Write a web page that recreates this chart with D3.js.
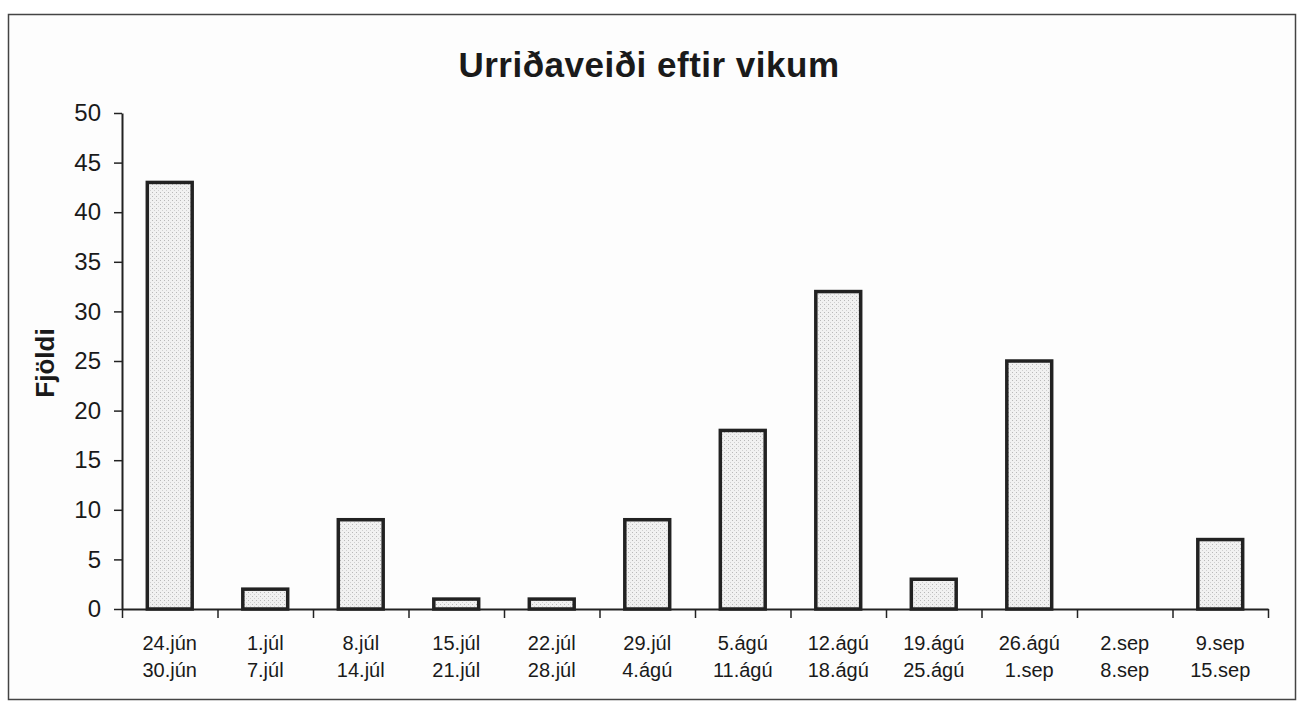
<!DOCTYPE html>
<html>
<head>
<meta charset="utf-8">
<script src="https://cdn.jsdelivr.net/npm/d3@7"></script>
<style>
  html, body { margin: 0; padding: 0; background: #ffffff; }
  svg { display: block; }
  text { font-family: "Liberation Sans", Arial, Helvetica, sans-serif; fill: #1a1a1a; }
</style>
</head>
<body>
<svg id="chart" width="1305" height="709"></svg>
<script>
// ---- data ----
const weekStart = ["24.jún","1.júl","8.júl","15.júl","22.júl","29.júl","5.ágú","12.ágú","19.ágú","26.ágú","2.sep","9.sep"];
const weekEnd   = ["30.jún","7.júl","14.júl","21.júl","28.júl","4.ágú","11.ágú","18.ágú","25.ágú","1.sep","8.sep","15.sep"];
const counts    = [43, 2, 9, 1, 1, 9, 18, 32, 3, 25, 0, 7];
const yTicks    = [0, 5, 10, 15, 20, 25, 30, 35, 40, 45, 50];
const chartTitle = "Urriðaveiði eftir vikum";
const yTitle    = "Fjöldi";

// ---- layout ----
const plotL = 122, plotR = 1268, plotT = 113, plotB = 609;

const svg = d3.select("#chart");

// stipple pattern for bars
const defs = svg.append("defs");
const pat = defs.append("pattern").attr("id", "stipple")
  .attr("width", 4).attr("height", 4).attr("patternUnits", "userSpaceOnUse");
pat.append("rect").attr("width", 4).attr("height", 4).attr("fill", "#f1f1f1");
pat.append("rect").attr("x", 0).attr("y", 0).attr("width", 1).attr("height", 1).attr("fill", "#b8b8b8");
pat.append("rect").attr("x", 2).attr("y", 2).attr("width", 1).attr("height", 1).attr("fill", "#cfcfcf");

// outer frame
svg.append("rect").attr("x", 8.5).attr("y", 14.5).attr("width", 1287).attr("height", 685)
  .attr("fill", "#fdfdfd").attr("stroke", "#444").attr("stroke-width", 1.5);

// title
svg.append("text").attr("x", 649).attr("y", 77).attr("text-anchor", "middle")
  .style("font-size", "35px").style("font-weight", "bold").style("letter-spacing", "0.5px")
  .text(chartTitle);

// scales
const x = d3.scaleBand().domain(d3.range(counts.length)).range([plotL, plotR])
  .paddingInner(0.53).paddingOuter(0.265);
const xEdge = d3.scaleLinear().domain([0, counts.length]).range([plotL, plotR]);
const y = d3.scaleLinear().domain([0, 50]).range([plotB, plotT]);

// bars
svg.append("g").selectAll("rect").data(counts).join("rect")
  .attr("x", (d, i) => x(i))
  .attr("y", d => y(d))
  .attr("width", x.bandwidth())
  .attr("height", d => plotB - y(d))
  .attr("fill", "url(#stipple)")
  .attr("stroke", "#222")
  .attr("stroke-width", d => d > 0 ? 3.5 : 0);

// y axis
const yAxis = svg.append("g").attr("transform", `translate(${plotL},0)`)
  .call(d3.axisLeft(y).tickValues(yTicks).tickSize(8).tickSizeOuter(0).tickPadding(13));
yAxis.select(".domain").attr("stroke", "#222").attr("stroke-width", 2);
yAxis.selectAll(".tick line").attr("stroke", "#222").attr("stroke-width", 1.5);
yAxis.selectAll(".tick text").style("font-size", "24px").style("font-family", "'Liberation Sans', Arial, sans-serif").attr("fill", "#1a1a1a");

// x axis (ticks at band boundaries)
const xAxis = svg.append("g").attr("transform", `translate(0,${plotB})`)
  .call(d3.axisBottom(xEdge).tickValues(d3.range(counts.length + 1)).tickFormat("").tickSize(9).tickSizeOuter(0));
xAxis.select(".domain").attr("stroke", "#222").attr("stroke-width", 2);
xAxis.selectAll(".tick line").attr("stroke", "#222").attr("stroke-width", 1.5);

// x labels (two lines)
const lab = svg.append("g").selectAll("text").data(counts).join("text")
  .attr("text-anchor", "middle")
  .style("font-size", "20px");
lab.append("tspan").attr("x", (d, i) => x(i) + x.bandwidth() / 2).attr("y", 650).text((d, i) => weekStart[i]);
lab.append("tspan").attr("x", (d, i) => x(i) + x.bandwidth() / 2).attr("y", 677).text((d, i) => weekEnd[i]);

// y title
svg.append("text").attr("transform", "translate(54,363) rotate(-90)")
  .attr("text-anchor", "middle").style("font-size", "26px").style("font-weight", "bold").text(yTitle);
</script>
</body>
</html>
